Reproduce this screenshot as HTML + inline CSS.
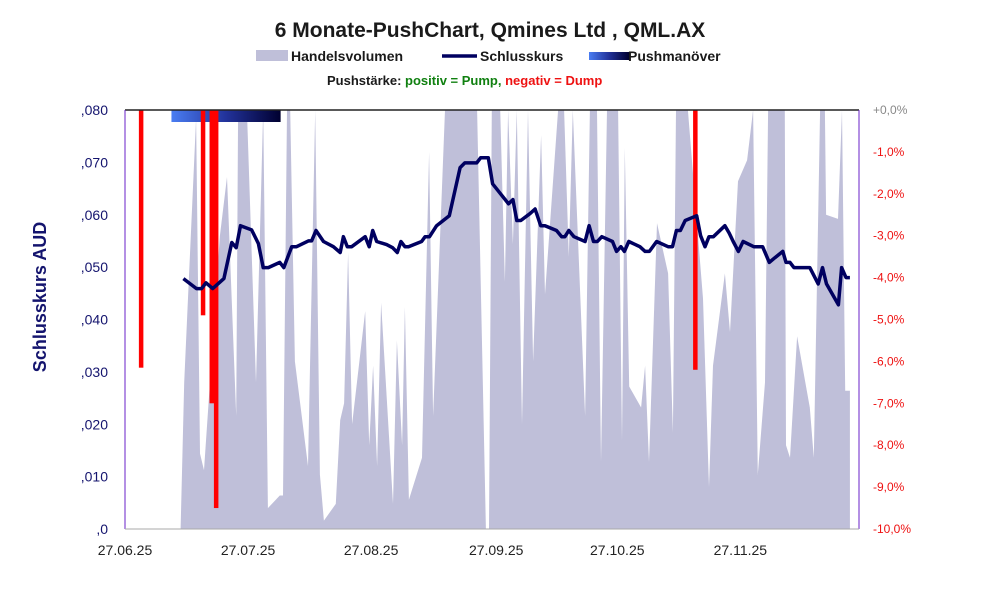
<!DOCTYPE html>
<html><head><meta charset="utf-8">
<style>
html,body{margin:0;padding:0;background:#fff;}
svg{display:block;font-family:"Liberation Sans",sans-serif;}
</style></head>
<body>
<svg id="chart" width="991" height="593" viewBox="0 0 991 593">
  <defs>
    <linearGradient id="pushGrad" x1="0" x2="1" y1="0" y2="0">
      <stop offset="0" stop-color="#4a7df2"/>
      <stop offset="0.5" stop-color="#22329a"/>
      <stop offset="1" stop-color="#000030"/>
    </linearGradient>
    <clipPath id="plotClip"><rect x="125" y="110" width="734" height="419"/></clipPath>
  </defs>
  <text x="490" y="37" text-anchor="middle" font-size="21" font-weight="bold" fill="#1a1a1a">6 Monate-PushChart, Qmines Ltd , QML.AX</text>
  <g>
    <rect x="256" y="50" width="32" height="11" fill="#bfbfd9"/>
    <text x="291" y="61" font-size="14" font-weight="bold" fill="#1a1a1a">Handelsvolumen</text>
    <line x1="442" y1="56" x2="477" y2="56" stroke="#000060" stroke-width="3.5"/>
    <text x="480" y="61" font-size="14" font-weight="bold" fill="#1a1a1a">Schlusskurs</text>
    <rect x="589" y="52" width="40" height="8" fill="url(#pushGrad)"/>
    <text x="628" y="61" font-size="14" font-weight="bold" fill="#1a1a1a">Pushmanöver</text>
  </g>
  <text x="327" y="85" font-size="13" font-weight="bold" fill="#1a1a1a">Pushstärke:  <tspan fill="#108010">positiv = Pump,</tspan>  <tspan fill="#ee1111">negativ = Dump</tspan></text>
  <text transform="translate(46,297) rotate(-90)" text-anchor="middle" font-size="18" font-weight="bold" fill="#14146e">Schlusskurs AUD</text>
  <g id="plot"></g>
</svg>
<script>
const volumeDays=[14.0,14.9,17.9,18.9,19.9,23.9,25.7,28,28.5,30.7,33,34.8,36,39,39.8,40.8,41.6,42.8,46.1,47.9,49.1,50.1,53.1,54.2,55.2,56.2,57.2,60.5,61.5,62.5,63.5,64.5,67.5,68.5,69.8,70.5,71.5,74.8,76.6,77.6,80.6,88.7,90.9,91.7,92.4,94.5,95.7,96.5,97.7,98.7,100,101.5,102.8,104.8,105.8,109.1,110.6,111.8,112.8,115.9,117.1,118.9,119.9,121.4,124.2,125.2,125.9,127,130,131,132,134,136.8,138,138.8,140.3,141.8,145.6,147.1,148.1,151.1,152.4,154.4,156.7,158.2,159.4,161.2,162,166.2,166.5,167.5,169.3,172.5,173.5,175.1,176.3,176.6,179.6,180.6,181.4,182.6];
const volumeValues=[0,35,98,18,14,70,84,27,100,100,35,100,5,8,8,100,100,40,15,100,13,2,6,26,30,66,25,52,20,39,15,54,6,45,20,53,7,17,90,27,100,100,0,0,100,100,59,100,68,100,25,100,40,94,56,100,100,65,100,27,100,100,16,100,100,21,91,34,29,39,16,73,61,23,100,100,100,55,10,39,61,47,83,88,100,13,35,100,100,20,17,46,29,17,100,100,75,74,100,33,33];
const priceDays=[14.7,18.0,19.3,20.4,22.1,24.9,26.9,28,29.1,31.9,33.6,34.8,36.1,39,40,42,43.2,46.2,47,48.1,50,52.5,54.2,55,56,57.1,60.5,61.5,62.4,63.4,65.9,67.4,68.6,69.5,70.5,71.4,74.7,75.6,76.7,78.5,81.7,84.4,85.6,88.6,89.6,91.5,92.6,96.6,97.7,98.7,99.7,102,103.3,104.7,105.8,108.7,110,110.8,111.8,113.1,115.9,116.9,118,119,120.1,122.8,123.8,124.9,125.8,126.9,129.7,131,132.1,133.9,136.8,137.9,138.9,139.9,141.1,144,145,146.1,147.1,148.2,151.1,152.2,153.2,154.5,155.7,158.4,160.6,162.3,163.7,165.7,166.5,167.5,168.5,172.5,174.6,175.7,176.7,179.7,180.5,181.6,182.6];
const priceValues=[0.0478,0.0459,0.0459,0.0470,0.0459,0.0478,0.0547,0.0537,0.0579,0.0571,0.0545,0.0499,0.0499,0.0509,0.0499,0.0539,0.0539,0.0550,0.0550,0.0570,0.0549,0.0539,0.0528,0.0558,0.0539,0.0539,0.0558,0.0539,0.0570,0.0549,0.0543,0.0537,0.0528,0.0549,0.0539,0.0539,0.0549,0.0558,0.0558,0.0579,0.0598,0.0690,0.0699,0.0699,0.0709,0.0709,0.0659,0.0621,0.0629,0.0589,0.0589,0.0602,0.0611,0.0579,0.0579,0.0570,0.0558,0.0558,0.0570,0.0558,0.0549,0.0579,0.0549,0.0549,0.0558,0.0549,0.0530,0.0539,0.0530,0.0549,0.0539,0.0530,0.0530,0.0549,0.0539,0.0539,0.0570,0.0570,0.0589,0.0598,0.0560,0.0539,0.0558,0.0558,0.0579,0.0565,0.0549,0.0530,0.0549,0.0539,0.0539,0.0509,0.0518,0.0530,0.0509,0.0509,0.0499,0.0499,0.0468,0.0499,0.0468,0.0428,0.0499,0.0480,0.0480];
const pushDays=[4.0,19.6,21.8,22.9,143.6];
const pushValues=[-6.15,-4.9,-7.0,-9.5,-6.2];
const pushPeriod=[11.7,39.2];
const leftTicks=[0,0.01,0.02,0.03,0.04,0.05,0.06,0.07,0.08];
const leftTickLabels=[",0",",010",",020",",030",",040",",050",",060",",070",",080"];
const rightTicks=[0,-1,-2,-3,-4,-5,-6,-7,-8,-9,-10];
const rightTickLabels=["+0,0%","-1,0%","-2,0%","-3,0%","-4,0%","-5,0%","-6,0%","-7,0%","-8,0%","-9,0%","-10,0%"];
const xTickDays=[0,31,62,93.5,124,155];
const xTickLabels=["27.06.25","27.07.25","27.08.25","27.09.25","27.10.25","27.11.25"];

const NS="http://www.w3.org/2000/svg";
const L=125,R=859,T=110,B=529;
const xS=d=>L+d*3.97;
const yP=v=>B-(v/0.08)*(B-T);
const yPct=p=>T+(-p/10)*(B-T);
const yV=v=>B-(v/100)*(B-T);
const plot=document.getElementById('plot');
function mk(tag,attrs,parent){const e=document.createElementNS(NS,tag);for(const k in attrs)e.setAttribute(k,attrs[k]);(parent||plot).appendChild(e);return e;}

// volume area
let d=`M${xS(volumeDays[0])},${B}`;
volumeDays.forEach((dd,i)=>{d+=` L${xS(dd).toFixed(1)},${yV(volumeValues[i]).toFixed(1)}`;});
d+=` L${xS(volumeDays[volumeDays.length-1])},${B} Z`;
const va=mk('path',{d:d,fill:'#bfbfd9','clip-path':'url(#plotClip)'});



// push period bar
const pp=mk('rect',{x:xS(pushPeriod[0]),y:T,width:xS(pushPeriod[1])-xS(pushPeriod[0]),height:12,fill:'url(#pushGrad)'});



// push bars
pushDays.forEach((dd,i)=>{
  const b=mk('rect',{x:xS(dd)-2,y:T,width:4.5,height:yPct(pushValues[i])-T,fill:'#ff0000'});
  
  
});

// price line
const pts=priceDays.map((dd,i)=>`${xS(dd).toFixed(1)},${yP(priceValues[i]).toFixed(1)}`).join(' ');
const pl=mk('polyline',{points:pts,fill:'none',stroke:'#000060','stroke-width':3.5,'stroke-linejoin':'round'});



// axes
const topBorder=mk('line',{x1:L,y1:T,x2:R,y2:T,stroke:'#222','stroke-width':1.5});


const la=mk('line',{x1:L,y1:T,x2:L,y2:B,stroke:'#6a22c8','stroke-width':1});


const ra=mk('line',{x1:R,y1:T,x2:R,y2:B,stroke:'#6a22c8','stroke-width':1});


const ba=mk('line',{x1:L,y1:B,x2:R,y2:B,stroke:'#aaa','stroke-width':1});



leftTicks.forEach((v,i)=>{
  const t=mk('text',{x:108,y:yP(v)+5,'text-anchor':'end','font-size':14,fill:'#14146e'});
  t.textContent=leftTickLabels[i];
  
  
});
rightTicks.forEach((v,i)=>{
  const t=mk('text',{x:873,y:yPct(v)+4,'font-size':12,fill:i===0?'#888':'#ee1111'});
  t.textContent=rightTickLabels[i];
  
  
});
xTickDays.forEach((dd,i)=>{
  const t=mk('text',{x:xS(dd),y:555,'text-anchor':'middle','font-size':14,fill:'#222'});
  t.textContent=xTickLabels[i];
  
  
});
</script>
</body></html>
